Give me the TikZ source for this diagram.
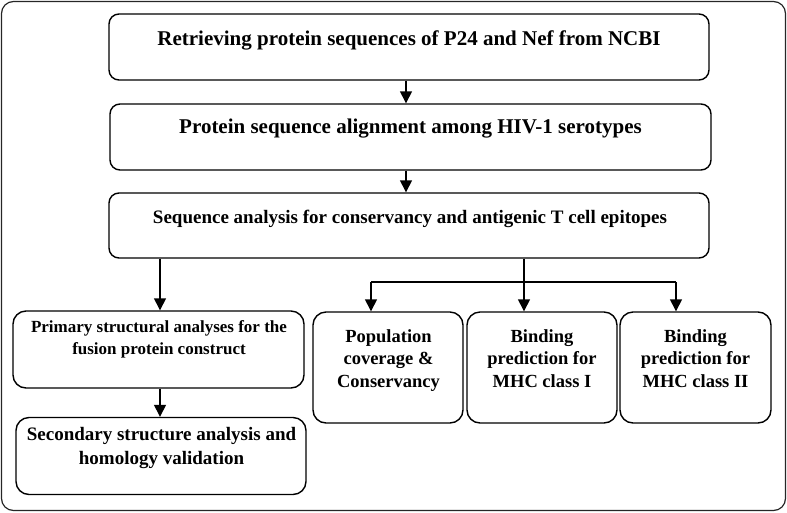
\documentclass[tikz,border=0pt]{standalone}
\usepackage{fontspec}
\setmainfont{Liberation Serif}
\usetikzlibrary{arrows.meta}
\tikzset{
  box/.style={draw=black, line width=1.4pt, rounded corners=10pt, inner sep=0pt},
  sbox/.style={draw=black, line width=1.4pt, rounded corners=13pt, inner sep=0pt},
  lbl/.style={inner sep=0pt, anchor=base, align=center, font=\bfseries},
  arr/.style={line width=1.4pt, -{Triangle[length=12pt,width=12pt]}},
  ln/.style={line width=1.4pt}
}
\begin{document}
\begin{tikzpicture}[x=1pt,y=-1pt]
\useasboundingbox (0,0) rectangle (787,512);
\node[draw=black!85, line width=1.2pt, rounded corners=12pt, minimum width=784pt, minimum height=509pt, inner sep=0pt] (frame) at (393.5,256) {};
% main boxes
\node[box, minimum width=600pt, minimum height=66pt] (b1) at (409,47) {};
\node[box, minimum width=601pt, minimum height=66pt] (b2) at (410.5,137) {};
\node[box, minimum width=600pt, minimum height=65pt] (b3) at (409,225.5) {};
\node[sbox, minimum width=291pt, minimum height=77pt] (prim) at (158.5,349.5) {};
\node[sbox, minimum width=290pt, minimum height=77pt] (sec) at (161,456) {};
\node[sbox, minimum width=150pt, minimum height=111pt] (pop) at (388,367.5) {};
\node[sbox, minimum width=150pt, minimum height=111pt] (bi) at (542,367.5) {};
\node[sbox, minimum width=151pt, minimum height=111pt] (bii) at (695.5,367.5) {};
% texts (base anchor = last line for multi-line labels)
\node[lbl, font=\bfseries\fontsize{21}{25}\selectfont] (t1) at (409,45) {Retrieving protein sequences of P24 and Nef from NCBI};
\node[lbl, font=\bfseries\fontsize{21}{25}\selectfont] (t2) at (410.5,133) {Protein sequence alignment among HIV-1 serotypes};
\node[lbl, font=\bfseries\fontsize{19}{23}\selectfont] (t3) at (410,223) {Sequence analysis for conservancy and antigenic T cell epitopes};
\node[lbl, font=\bfseries\fontsize{17}{22}\selectfont] (tp) at (159,354) {Primary structural analyses for the\\fusion protein construct};
\node[lbl, font=\bfseries\fontsize{19}{24}\selectfont] (ts) at (161.5,464) {Secondary structure analysis and\\homology validation};
\node[lbl, font=\bfseries\fontsize{18.5}{22.5}\selectfont] (tpop) at (388.5,387) {Population\\coverage \&\\Conservancy};
\node[lbl, font=\bfseries\fontsize{18.5}{22.5}\selectfont] (tbi) at (542,387) {Binding\\prediction for\\MHC class I};
\node[lbl, font=\bfseries\fontsize{18.5}{22.5}\selectfont] (tbii) at (695.5,387) {Binding\\prediction for\\MHC class II};
% connector coordinates
\coordinate (xa) at (406,0);
\coordinate (xl) at (160,0);
\coordinate (xm) at (524,0);
\coordinate (jl) at (371,282);
\coordinate (jr) at (676,282);
% connectors
\draw[arr] (b1.south -| xa) -- (b2.north -| xa);
\draw[arr] (b2.south -| xa) -- (b3.north -| xa);
\draw[arr] (b3.south -| xl) -- (prim.north -| xl);
\draw[arr] (prim.south -| xl) -- (sec.north -| xl);
\draw[arr] (b3.south -| xm) -- (bi.north -| xm);
\draw[ln] (jl) -- (jr);
\draw[arr] (jl) -- (pop.north -| jl);
\draw[arr] (jr) -- (bii.north -| jr);
\end{tikzpicture}
\end{document}
